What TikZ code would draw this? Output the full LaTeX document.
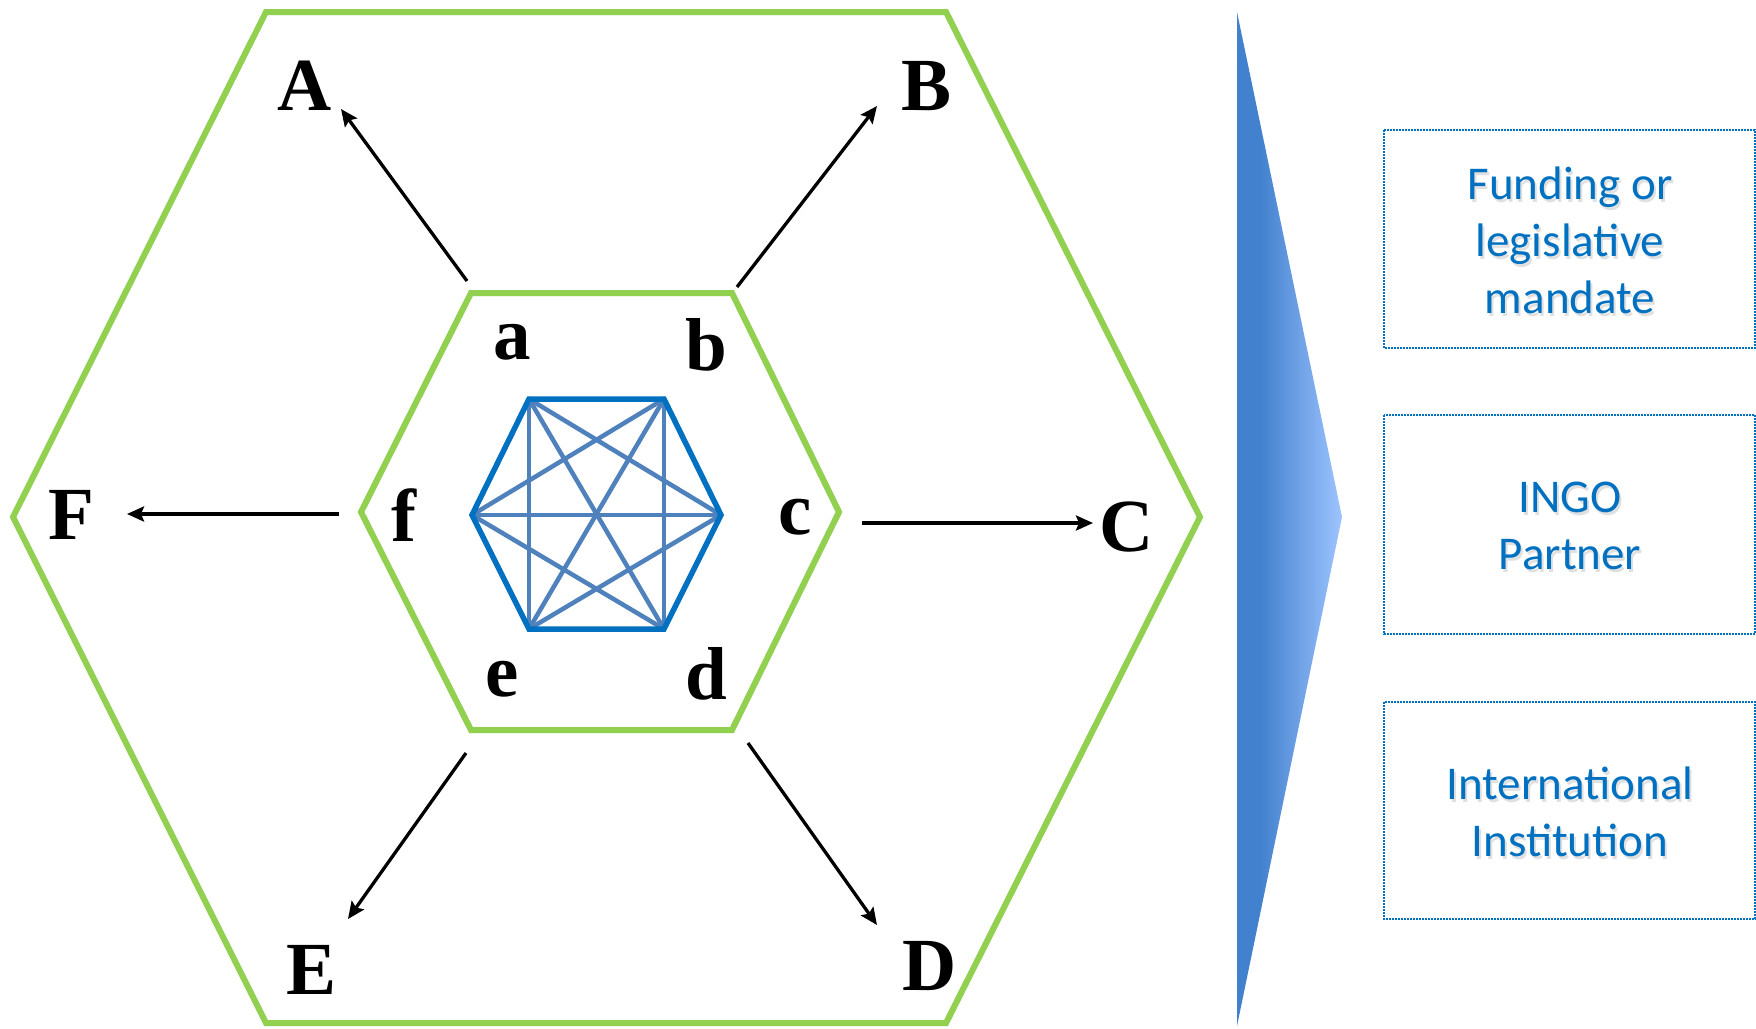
\documentclass[tikz,border=0pt]{standalone}
\usepackage{fontspec}
\setmainfont{Liberation Serif}
\newfontfamily\boxfont{Carlito}
\usetikzlibrary{arrows.meta}
\definecolor{hexgreen}{HTML}{92D050}
\definecolor{graphblue}{HTML}{0070C0}
\definecolor{graphlight}{HTML}{4F81BD}
\definecolor{textblue}{HTML}{0070C0}
\definecolor{tridark}{HTML}{4281CE}
\definecolor{trilight}{HTML}{9EC4FF}
\pgfdeclarehorizontalshading{trishade}{100bp}{color(0bp)=(tridark); color(36bp)=(tridark); color(75bp)=(trilight); color(100bp)=(trilight)}
\tikzset{
  hexline/.style={draw=hexgreen, line width=6pt, line join=miter},
  hexshadow/.style={draw=black!9, line width=6pt, line join=miter},
  outeredge/.style={draw=graphblue, line width=5.5pt, line cap=round},
  inneredge/.style={draw=graphlight, line width=4.5pt, line cap=round},
  biglabel/.style={font=\bfseries\fontsize{75}{75}\selectfont, inner sep=0pt},
  flowarrow/.style={draw=black, line width=3.3pt, -{Stealth[length=17pt,width=15pt,inset=3pt]}},
  infobox/.style={draw=graphblue, line width=1.6pt, dash pattern=on 1.6pt off 1.4pt, fill=white},
  boxtext/.style={font=\boxfont\fontsize{47}{57}\selectfont, text=textblue, align=center, inner sep=0pt},
  boxshadowtext/.style={font=\boxfont\fontsize{47}{57}\selectfont, text=black!12, align=center, inner sep=0pt}
}
\begin{document}
\begin{tikzpicture}[x=1pt,y=-1pt]
\useasboundingbox (0,0) rectangle (1756,1028);
\fill[white] (0,0) rectangle (1756,1028);

% outer hexagon
\coordinate (O1) at (266,12);
\coordinate (O2) at (946,12);
\coordinate (O3) at (1200,517);
\coordinate (O4) at (946,1023);
\coordinate (O5) at (266,1023);
\coordinate (O6) at (13,517);
\draw[hexshadow, shift={(3,4)}] (O1) -- (O2) -- (O3) -- (O4) -- (O5) -- (O6) -- cycle;
\draw[hexline] (O1) -- (O2) -- (O3) -- (O4) -- (O5) -- (O6) -- cycle;

% inner hexagon
\coordinate (I1) at (471,293);
\coordinate (I2) at (732,293);
\coordinate (I3) at (839,512);
\coordinate (I4) at (732,730);
\coordinate (I5) at (471,730);
\coordinate (I6) at (361,512);
\draw[hexshadow, shift={(3,4)}] (I1) -- (I2) -- (I3) -- (I4) -- (I5) -- (I6) -- cycle;
\draw[hexline] (I1) -- (I2) -- (I3) -- (I4) -- (I5) -- (I6) -- cycle;

% complete graph
\coordinate (ga) at (529,399);
\coordinate (gb) at (664,399);
\coordinate (gc) at (721,515);
\coordinate (gd) at (664,629);
\coordinate (ge) at (529,629);
\coordinate (gf) at (472,515);
\foreach \u/\v in {ga/gc,ga/gd,ga/ge,gb/gd,gb/ge,gb/gf,gc/ge,gc/gf,gd/gf}
  \draw[inneredge] (\u) -- (\v);
\draw[outeredge] (ga) -- (gb) -- (gc) -- (gd) -- (ge) -- (gf) -- cycle;

% small labels
\node[biglabel] (la) at (512,342) {a};
\node[biglabel] (lb) at (706,345) {b};
\node[biglabel] (lc) at (795,517) {c};
\node[biglabel] (ld) at (706,674) {d};
\node[biglabel] (le) at (502,679) {e};
\node[biglabel] (lf) at (404,515) {f};

% big labels
\node[biglabel] (A) at (305,86) {A};
\node[biglabel] (B) at (927,86) {B};
\node[biglabel] (C) at (1127,527) {C};
\node[biglabel] (D) at (930,966) {D};
\node[biglabel] (E) at (312,970) {E};
\node[biglabel] (F) at (71,515) {F};

% arrows
\coordinate (sA) at (467,281);
\coordinate (tA) at (341,109);
\coordinate (sB) at (737,287);
\coordinate (tB) at (877,106);
\coordinate (sC) at (862,523);
\coordinate (tC) at (1093,523);
\coordinate (sD) at (748,743);
\coordinate (tD) at (877,925);
\coordinate (sE) at (466,753);
\coordinate (tE) at (348,919);
\coordinate (sF) at (339,514);
\coordinate (tF) at (127,514);
\foreach \k in {A,B,C,D,E,F}
  \draw[flowarrow] (s\k) -- (t\k);

% gradient chevron
\coordinate (T1) at (1237,12);
\coordinate (T2) at (1342,517);
\coordinate (T3) at (1237,1026);
\shade[shading=trishade] (T1) -- (T2) -- (T3) -- cycle;

% boxes
\draw[infobox] (1384,130) rectangle (1755,348);
\draw[infobox] (1384,415) rectangle (1755,634);
\draw[infobox] (1384,702) rectangle (1755,919);
\node[boxshadowtext] at (1572,243) {Funding or\\legislative\\mandate};
\node[boxtext] (b1) at (1570,240) {Funding or\\legislative\\mandate};
\node[boxshadowtext] at (1572,529) {INGO\\Partner};
\node[boxtext] (b2) at (1570,526) {INGO\\Partner};
\node[boxshadowtext] at (1572,815) {International\\Institution};
\node[boxtext] (b3) at (1570,812) {International\\Institution};
\end{tikzpicture}
\end{document}
